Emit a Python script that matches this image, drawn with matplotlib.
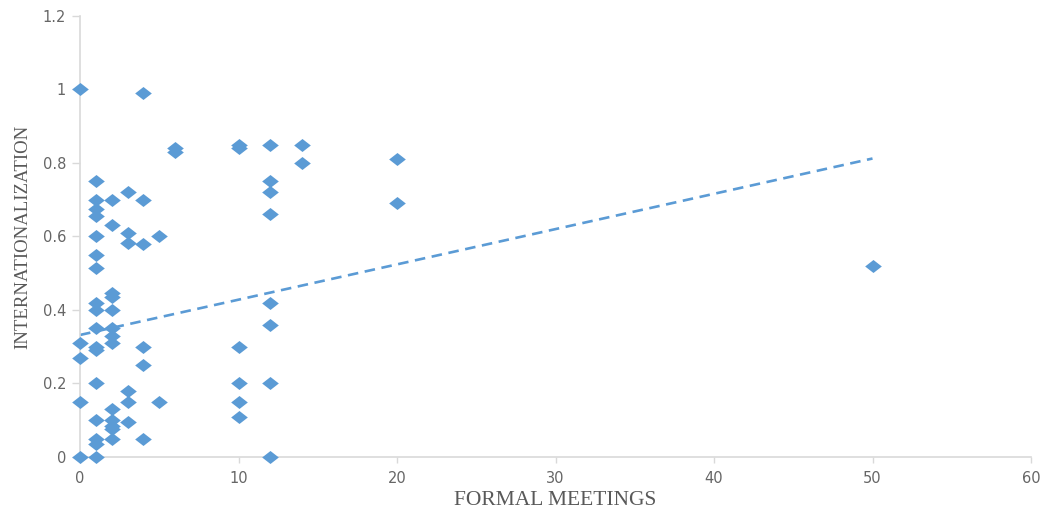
import matplotlib.pyplot as plt
import numpy as np

# formal meetings (x) and internationalization score (y), grouped by meeting count
meetings_0 = [1.0, 0.31, 0.27, 0.15, 0.0]
meetings_1 = [0.75, 0.70, 0.675, 0.655, 0.60, 0.55, 0.515, 0.42, 0.40, 0.35,
              0.30, 0.29, 0.20, 0.10, 0.05, 0.035, 0.0]
meetings_2 = [0.70, 0.63, 0.445, 0.435, 0.40, 0.35, 0.33, 0.31, 0.13, 0.10,
              0.085, 0.075, 0.05]
meetings_3 = [0.72, 0.61, 0.583, 0.18, 0.15, 0.095]
meetings_4 = [0.99, 0.70, 0.58, 0.30, 0.25, 0.05]
meetings_5 = [0.60, 0.15]
meetings_6 = [0.84, 0.83]
meetings_10 = [0.85, 0.84, 0.30, 0.20, 0.15, 0.11]
meetings_12 = [0.85, 0.75, 0.72, 0.66, 0.42, 0.36, 0.20, 0.0]
meetings_14 = [0.85, 0.80]
meetings_20 = [0.81, 0.69]
meetings_50 = [0.52]

# linear trend line (as fitted on the full sample)
trend_intercept = 0.332
trend_slope = 0.0096
trend_x = [0, 50]

groups = {0: meetings_0, 1: meetings_1, 2: meetings_2, 3: meetings_3,
          4: meetings_4, 5: meetings_5, 6: meetings_6, 10: meetings_10,
          12: meetings_12, 14: meetings_14, 20: meetings_20, 50: meetings_50}

x = np.concatenate([[k] * len(v) for k, v in groups.items()]).astype(float)
y = np.concatenate([v for v in groups.values()])

blue = "#5B9BD5"
axis_grey = "#D9D9D9"
text_grey = "#595959"

fig = plt.figure(figsize=(10.45, 5.12), dpi=100)
ax = fig.add_axes([0.0766, 0.1074, 0.9100, 0.8616])

# wide excel-style diamond
diamond = [(-1, 0), (0, 0.78), (1, 0), (0, -0.78), (-1, 0)]
ax.plot(x, y, linestyle="none", marker=diamond, markersize=12,
        color=blue, markeredgewidth=0, zorder=3, clip_on=False)

xt = np.array(trend_x, dtype=float)
ax.plot(xt, trend_intercept + trend_slope * xt, color=blue, linewidth=1.9,
        dashes=(4, 2.5), zorder=2, clip_on=False)

ax.set_xlim(0, 60)
ax.set_ylim(0, 1.2)
ax.set_xticks(np.arange(0, 61, 10))
ax.set_yticks([0, 0.2, 0.4, 0.6, 0.8, 1.0, 1.2])
ax.set_yticklabels(["0", "0.2", "0.4", "0.6", "0.8", "1", "1.2"])

for side in ("top", "right"):
    ax.spines[side].set_visible(False)
for side in ("left", "bottom"):
    ax.spines[side].set_color(axis_grey)
    ax.spines[side].set_linewidth(1.2)

ax.tick_params(axis="both", direction="out", color=axis_grey, width=1.0,
               labelcolor="#666666", labelsize=10.5)
ax.tick_params(axis="x", length=4, pad=6)
ax.tick_params(axis="y", length=6, pad=4)
for lbl in ax.get_xticklabels() + ax.get_yticklabels():
    lbl.set_family("DejaVu Sans")

ax.set_xlabel("FORMAL MEETINGS", family="Liberation Serif", fontsize=15.5,
              color=text_grey, labelpad=4)
ax.set_ylabel("INTERNATIONALIZATION", family="Liberation Serif", fontsize=13.5,
              color=text_grey, labelpad=8)

fig.savefig("out.png", dpi=100)
plt.close(fig)
